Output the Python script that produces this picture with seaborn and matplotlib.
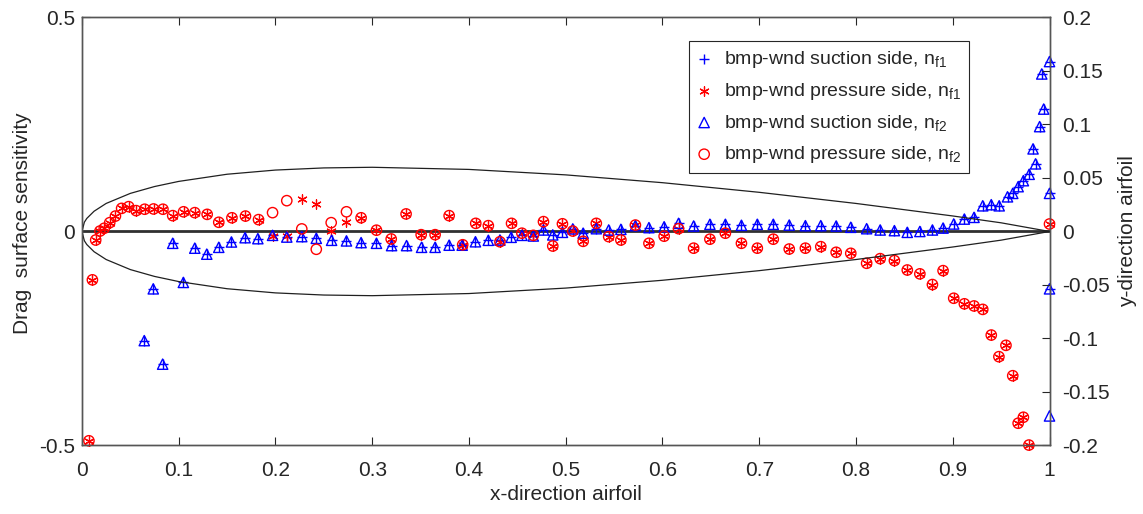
import numpy as np
import pandas as pd
import matplotlib
matplotlib.use("Agg")
import matplotlib.pyplot as plt
import seaborn as sns
from matplotlib.ticker import FixedLocator, FixedFormatter

# ---------------- data ----------------
press_x = [0.0072, 0.0108, 0.0142, 0.0186, 0.023, 0.0287, 0.0346, 0.041, 0.0483, 0.056,
           0.0648, 0.074, 0.0837, 0.0938, 0.105, 0.1166, 0.1294, 0.1414, 0.155, 0.169,
           0.1825, 0.197, 0.2117, 0.2272, 0.2422, 0.2576, 0.2734, 0.2885, 0.3044, 0.3196,
           0.335, 0.3506, 0.365, 0.3795, 0.3935, 0.407, 0.42, 0.432, 0.444, 0.4547,
           0.4665, 0.477, 0.4866, 0.4966, 0.5073, 0.518, 0.5316, 0.5444, 0.557, 0.572,
           0.586, 0.6017, 0.6166, 0.6322, 0.649, 0.665, 0.6816, 0.698, 0.7145, 0.731,
           0.7477, 0.7636, 0.7795, 0.7946, 0.811, 0.825, 0.8397, 0.853, 0.866, 0.879,
           0.890, 0.901, 0.912, 0.922, 0.931, 0.9398, 0.9477, 0.955, 0.962, 0.9676,
           0.973, 0.9787, 1.0]
press_nf2 = [-0.489, -0.113, -0.020, 0.001, 0.0075, 0.0206, 0.036, 0.054, 0.058, 0.0487,
             0.052, 0.0526, 0.052, 0.037, 0.046, 0.044, 0.040, 0.0215, 0.032, 0.036,
             0.0277, 0.044, 0.072, 0.006, -0.0416, 0.0206, 0.046, 0.032, 0.003, -0.0175,
             0.041, -0.0075, -0.0075, 0.037, -0.031, 0.019, 0.0136, -0.024, 0.019, -0.004,
             -0.009, 0.023, -0.034, 0.018, 0.001, -0.023, 0.019, -0.012, -0.020, 0.015,
             -0.0276, -0.011, 0.0065, -0.039, -0.018, -0.004, -0.0276, -0.039, -0.018, -0.041,
             -0.039, -0.0355, -0.0486, -0.051, -0.0743, -0.0635, -0.068, -0.090, -0.099, -0.124,
             -0.0915, -0.156, -0.169, -0.174, -0.182, -0.242, -0.2925, -0.266, -0.337, -0.448,
             -0.434, -0.499, 0.0175]
press_nf1 = [-0.489, -0.113, -0.020, 0.001, 0.0075, 0.0206, 0.036, 0.054, 0.058, 0.0487,
             0.052, 0.0526, 0.052, 0.037, 0.046, 0.044, 0.040, 0.0215, 0.032, 0.036,
             0.0277, -0.0105, -0.0105, 0.075, 0.0635, 0.0, 0.023, 0.032, 0.003, -0.0175,
             0.041, -0.0075, -0.0075, 0.037, -0.031, 0.019, 0.0136, -0.024, 0.019, -0.004,
             -0.009, 0.023, -0.034, 0.018, 0.001, -0.023, 0.019, -0.012, -0.020, 0.015,
             -0.0276, -0.011, 0.0065, -0.039, -0.018, -0.004, -0.0276, -0.039, -0.018, -0.041,
             -0.039, -0.0355, -0.0486, -0.051, -0.0743, -0.0635, -0.068, -0.090, -0.099, -0.124,
             -0.0915, -0.156, -0.169, -0.174, -0.182, -0.242, -0.2925, -0.266, -0.337, -0.448,
             -0.434, -0.499, 0.0175]

suct_x = [0.0644, 0.0737, 0.0834, 0.0938, 0.1048, 0.1166, 0.129, 0.1414, 0.1545, 0.1686,
          0.1818, 0.197, 0.2117, 0.2272, 0.2422, 0.258, 0.2734, 0.2885, 0.3044, 0.320,
          0.3355, 0.351, 0.365, 0.3795, 0.393, 0.4067, 0.42, 0.432, 0.4436, 0.4547,
          0.4665, 0.477, 0.4866, 0.4966, 0.5073, 0.518, 0.5316, 0.5444, 0.557, 0.572,
          0.586, 0.6017, 0.6166, 0.6322, 0.649, 0.665, 0.6816, 0.698, 0.7145, 0.731,
          0.7477, 0.7636, 0.7795, 0.7946, 0.811, 0.825, 0.8397, 0.853, 0.866, 0.879,
          0.890, 0.901, 0.912, 0.922, 0.931, 0.9398, 0.948, 0.9566, 0.962, 0.9676,
          0.973, 0.979, 0.983, 0.9856, 0.9898, 0.992, 0.994, 1.0, 1.0, 1.0]
suct_y = [-0.255, -0.134, -0.31, -0.0276, -0.119, -0.039, -0.053, -0.037, -0.0245, -0.0145,
          -0.0168, -0.009, -0.013, -0.012, -0.016, -0.0206, -0.022, -0.026, -0.0276, -0.033,
          -0.033, -0.037, -0.037, -0.032, -0.032, -0.024, -0.0206, -0.020, -0.0136, -0.009,
          -0.0105, 0.0035, -0.008, -0.002, 0.006, -0.004, 0.0065, 0.0035, 0.005, 0.0136,
          0.009, 0.011, 0.019, 0.0128, 0.0168, 0.0168, 0.0145, 0.0168, 0.0168, 0.015,
          0.0136, 0.0136, 0.0128, 0.0098, 0.0065, 0.0035, 0.002, -0.002, 0.0, 0.0035,
          0.008, 0.0175, 0.029, 0.033, 0.06, 0.0626, 0.06, 0.081, 0.089, 0.1047,
          0.1187, 0.1336, 0.193, 0.158, 0.245, 0.368, 0.286, 0.397, 0.089, -0.134]
suct_extra_x = [1.0]        # only in n_f2
suct_extra_y = [-0.431]

# airfoil outline (half thickness, symmetric section)
foil_x = [0.0, 0.0025, 0.005, 0.0125, 0.025, 0.05, 0.075, 0.1, 0.15, 0.2, 0.25,
          0.3, 0.4, 0.5, 0.6, 0.7, 0.8, 0.9, 0.95, 1.0]
foil_t = [0.0, 0.0087, 0.0122, 0.0189, 0.0262, 0.0356, 0.0420, 0.0468, 0.0535, 0.0574,
          0.0594, 0.0600, 0.0580, 0.0529, 0.0456, 0.0366, 0.0262, 0.0145, 0.0081, 0.0]
chord_x = [0.0, 1.0]
chord_y = [0.0, 0.0]

x_ticks = [0, 0.1, 0.2, 0.3, 0.4, 0.5, 0.6, 0.7, 0.8, 0.9, 1.0]
x_labels = ["0", "0.1", "0.2", "0.3", "0.4", "0.5", "0.6", "0.7", "0.8", "0.9", "1"]
yl_ticks = [-0.5, 0, 0.5]
yl_labels = ["-0.5", "0", "0.5"]
yr_ticks = [-0.2, -0.15, -0.1, -0.05, 0, 0.05, 0.1, 0.15, 0.2]
yr_labels = ["-0.2", "-0.15", "-0.1", "-0.05", "0", "0.05", "0.1", "0.15", "0.2"]

labels = [r"bmp-wnd suction side, n$\mathregular{_{f1}}$",
          r"bmp-wnd pressure side, n$\mathregular{_{f1}}$",
          r"bmp-wnd suction side, n$\mathregular{_{f2}}$",
          r"bmp-wnd pressure side, n$\mathregular{_{f2}}$"]

# ---------------- style ----------------
sns.set_style("white")
plt.rcParams["font.family"] = ["Liberation Sans", "DejaVu Sans"]
plt.rcParams["axes.unicode_minus"] = False
plt.rcParams["mathtext.fontset"] = "custom"
plt.rcParams["mathtext.rm"] = "Liberation Sans"

txt = "#262626"
axc = "#555555"

fig = plt.figure(figsize=(11.43, 5.14), dpi=100)
ax = fig.add_axes([0.0717, 0.1333, 0.8465, 0.8327])
ax2 = ax.twinx()

blue = "#0000ff"
red = "#ff0000"
star = (6, 2, 0)

sns.lineplot(x=chord_x, y=chord_y, ax=ax, color="#303030", linewidth=2.0, zorder=1)

sns.scatterplot(x=suct_x, y=suct_y, ax=ax, marker="+", s=45, color=blue,
                linewidth=1.0, label=labels[0], zorder=3, clip_on=False)
sns.scatterplot(x=press_x, y=press_nf1, ax=ax, marker=star, s=45, color=red,
                linewidth=0.9, label=labels[1], zorder=3, clip_on=False)
sns.scatterplot(x=suct_x + suct_extra_x, y=suct_y + suct_extra_y, ax=ax, marker="^", s=55,
                facecolors="none", edgecolors=blue, linewidth=1.0, label=labels[2],
                zorder=3, clip_on=False)
sns.scatterplot(x=press_x, y=press_nf2, ax=ax, marker="o", s=55,
                facecolors="none", edgecolors=red, linewidth=1.0, label=labels[3],
                zorder=3, clip_on=False)

foil_lower = [-t for t in foil_t]
sns.lineplot(x=foil_x, y=foil_t, ax=ax2, color="#202020", linewidth=0.9, sort=False)
sns.lineplot(x=foil_x, y=foil_lower, ax=ax2, color="#202020", linewidth=0.9, sort=False)

ax.set_xlim(0, 1)
ax.set_ylim(-0.5, 0.5)
ax2.set_ylim(-0.2, 0.2)

ax.xaxis.set_major_locator(FixedLocator(x_ticks))
ax.xaxis.set_major_formatter(FixedFormatter(x_labels))
ax.yaxis.set_major_locator(FixedLocator(yl_ticks))
ax.yaxis.set_major_formatter(FixedFormatter(yl_labels))
ax2.yaxis.set_major_locator(FixedLocator(yr_ticks))
ax2.yaxis.set_major_formatter(FixedFormatter(yr_labels))

ax.tick_params(axis="x", direction="in", top=True, bottom=True, length=6, width=0.8,
               color=txt, labelsize=15, labelcolor=txt, pad=11)
ax.tick_params(axis="y", direction="in", left=True, right=False, length=6, width=0.8,
               color=txt, labelsize=15, labelcolor=txt, pad=5)
ax2.tick_params(axis="y", direction="in", right=True, length=6, width=0.8,
                color=txt, labelsize=15, labelcolor=txt, pad=9)

for a in (ax, ax2):
    for sp in a.spines.values():
        sp.set_visible(True)
        sp.set_color(axc)
        sp.set_linewidth(1.0)

ax.set_xlabel("x-direction airfoil", fontsize=15, color=txt)
ax.set_ylabel("Drag  surface sensitivity", fontsize=15, color=txt)
ax2.set_ylabel("y-direction airfoil", fontsize=15, color=txt)
ax.xaxis.set_label_coords(0.5, -0.093)
ax.yaxis.set_label_coords(-0.052, 0.52)
ax2.yaxis.set_label_coords(1.071, 0.5)

handles, labs = ax.get_legend_handles_labels()
if ax.get_legend() is not None:
    ax.get_legend().remove()
if ax2.get_legend() is not None:
    ax2.get_legend().remove()
leg = ax2.legend(handles, labs, loc="upper left", bbox_to_anchor=(0.627, 0.944),
                 borderaxespad=0, fontsize=14, frameon=True, fancybox=False,
                 edgecolor="#262626", framealpha=1, handlelength=0.8,
                 handletextpad=0.6, labelspacing=0.55, borderpad=0.4)
leg.get_frame().set_linewidth(0.8)
for t in leg.get_texts():
    t.set_color(txt)

fig.savefig("out.png", dpi=100)
